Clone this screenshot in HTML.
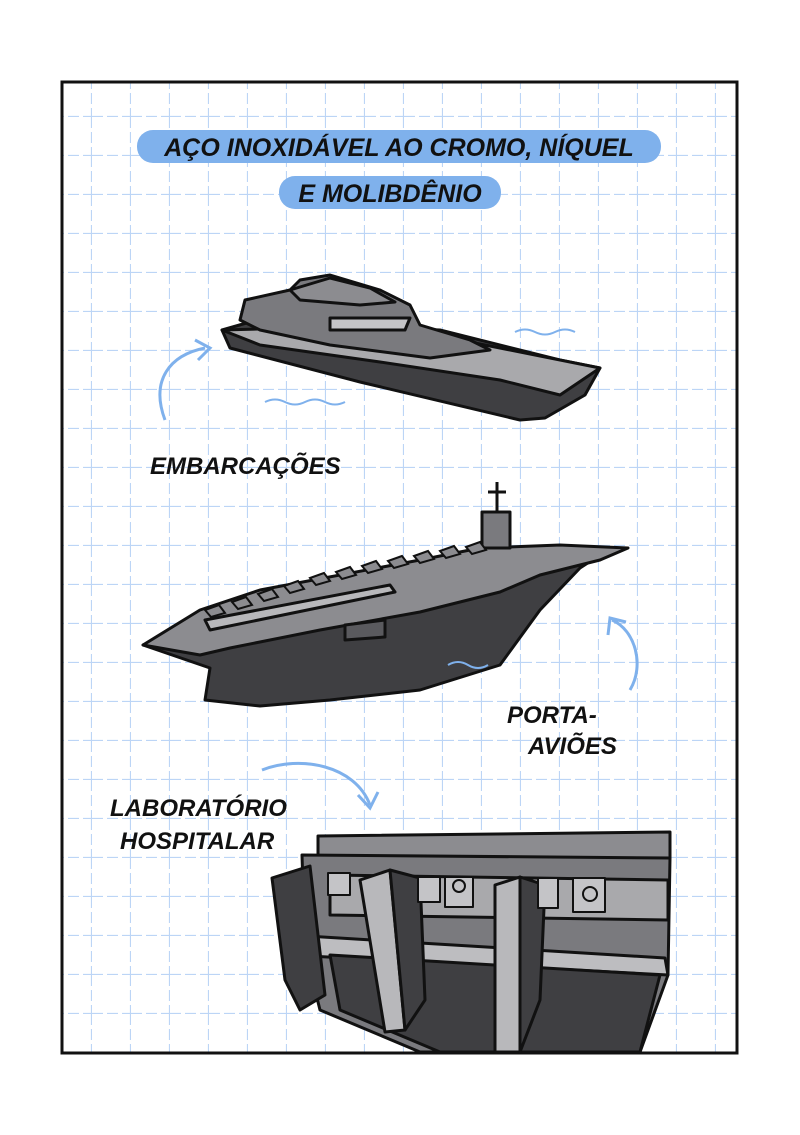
<!DOCTYPE html>
<html><head><meta charset="utf-8"><style>
html,body{margin:0;padding:0;background:#fff;}
svg{display:block}
.t{font-family:"Liberation Sans",sans-serif;font-weight:bold;font-style:italic;fill:#111;}
</style></head><body>
<svg width="800" height="1135" viewBox="0 0 800 1135" xmlns="http://www.w3.org/2000/svg">
<defs>
<pattern id="g" x="53" y="78" width="39" height="39" patternUnits="userSpaceOnUse">
<path d="M39 0V39M0 39H39" stroke="#bcd5f6" stroke-width="2.2" stroke-dasharray="11 4" fill="none"/>
</pattern>
</defs>
<rect x="0" y="0" width="800" height="1135" fill="#fff"/>
<rect x="62" y="82" width="675" height="971" fill="url(#g)"/>
<rect x="62" y="82" width="675" height="971" fill="none" stroke="#111" stroke-width="3"/>

<rect x="137" y="130" width="524" height="33" rx="16" fill="#7fb1ec"/>
<rect x="279" y="176" width="222" height="33" rx="16" fill="#7fb1ec"/>
<text class="t" x="399" y="156" font-size="25" text-anchor="middle">AÇO INOXIDÁVEL AO CROMO, NÍQUEL</text>
<text class="t" x="390" y="202" font-size="25" text-anchor="middle">E MOLIBDÊNIO</text>

<!-- yacht -->
<g stroke="#111" stroke-width="3" stroke-linejoin="round">
<path d="M222 330 L250 322 L440 330 L560 360 L600 368 L585 395 L545 418 L520 420 L360 382 L230 348 Z" fill="#3f3f42"/>
<path d="M222 330 L300 328 L420 332 L500 348 L600 368 L560 395 L500 380 L380 362 L260 345 Z" fill="#a9a9ac"/>
<path d="M245 300 L290 290 L300 280 L330 275 L380 290 L410 305 L420 325 L470 340 L490 350 L430 358 L330 345 L260 330 L240 320 Z" fill="#7a7a7e"/>
<path d="M290 290 L330 278 L370 288 L395 302 L360 305 L300 300 Z" fill="#8c8c90"/>
<path d="M330 318 L410 318 L405 330 L330 330 Z" fill="#c4c4c7"/>
</g>
<path d="M165 420 C150 380 170 355 205 348" fill="none" stroke="#7fb1ec" stroke-width="3"/>
<path d="M195 340 L210 348 L198 360" fill="none" stroke="#7fb1ec" stroke-width="3"/>
<path d="M515 332 q10 -5 20 0 q10 5 20 0 q10-5 20 0 M265 402 q10-5 20 0 q10 5 20 0 q10-5 20 0 q10 5 20 0" fill="none" stroke="#7fb1ec" stroke-width="2"/>
<text class="t" x="150" y="474" font-size="24">EMBARCAÇÕES</text>

<!-- carrier -->
<g stroke="#111" stroke-width="3" stroke-linejoin="round">
<path d="M143 645 L210 668 L205 700 L260 706 L330 700 L420 690 L500 665 L540 610 L580 568 L600 555 L560 560 L420 580 L300 610 Z" fill="#3f3f42"/>
<path d="M143 645 L200 610 L260 590 L420 560 L480 548 L560 545 L628 548 L600 560 L540 575 L500 592 L420 612 L320 630 L230 648 L200 655 Z" fill="#8c8c90"/>
<path d="M205 620 L390 585 L395 592 L210 630 Z" fill="#b8b8bb"/>
<rect x="482" y="512" width="28" height="36" fill="#7a7a7e"/>
<path d="M497 482 V512 M488 492 H506" stroke-width="3"/>
<path d="M345 625 L385 620 L385 637 L345 640 Z" fill="#5a5a5e"/>
</g>
<g fill="#8c8c90" stroke="#111" stroke-width="2">
<path d="M205 610 l14-5 l6 8 l-14 4z M232 602 l14-5 l6 8 l-14 4z M258 594 l14-5 l6 8 l-14 4z M284 586 l14-5 l6 8 l-14 4z M310 578 l14-5 l6 8 l-14 4z M336 572 l14-5 l6 8 l-14 4z M362 566 l14-5 l6 8 l-14 4z M388 561 l14-5 l6 8 l-14 4z M414 556 l14-5 l6 8 l-14 4z M440 551 l14-5 l6 8 l-14 4z M466 547 l14-5 l6 8 l-14 4z"/>
</g>
<path d="M630 690 C645 665 635 630 612 620" fill="none" stroke="#7fb1ec" stroke-width="3"/>
<path d="M608 635 L610 618 L626 622" fill="none" stroke="#7fb1ec" stroke-width="3"/>
<path d="M448 665 q10-6 20 0 q10 6 20 0" fill="none" stroke="#7fb1ec" stroke-width="2"/>
<text class="t" x="507" y="723" font-size="24">PORTA-</text>
<text class="t" x="528" y="754" font-size="24">AVIÕES</text>

<!-- lab -->
<path d="M262 770 C300 755 355 765 370 805" fill="none" stroke="#7fb1ec" stroke-width="3"/>
<path d="M358 795 L370 808 L378 792" fill="none" stroke="#7fb1ec" stroke-width="3"/>
<text class="t" x="110" y="816" font-size="24">LABORATÓRIO</text>
<text class="t" x="120" y="849" font-size="24">HOSPITALAR</text>
<g stroke="#111" stroke-width="3" stroke-linejoin="round">
<path d="M318 836 L670 832 L670 858 L318 858 Z" fill="#8c8c90"/>
<path d="M302 855 L670 858 L668 975 L640 1052 L420 1052 L320 1010 L305 950 Z" fill="#7a7a7e"/>
<path d="M330 875 L668 880 L668 920 L330 915 Z" fill="#a9a9ac"/>
<path d="M290 935 L665 958 L668 975 L290 955 Z" fill="#bdbdc0"/>
<path d="M330 955 L660 975 L640 1052 L440 1052 L340 1010 Z" fill="#3f3f42"/>
<path d="M272 878 L310 866 L325 995 L300 1010 L285 980 Z" fill="#3f3f42"/>
<path d="M360 880 L390 870 L405 1030 L385 1032 Z" fill="#b8b8bb"/>
<path d="M390 870 L420 878 L425 1000 L405 1030 Z" fill="#3f3f42"/>
<path d="M495 885 L520 877 L520 1052 L495 1052 Z" fill="#b8b8bb"/>
<path d="M520 877 L545 885 L540 1000 L520 1052 Z" fill="#3f3f42"/>
<rect x="328" y="873" width="22" height="22" fill="#c4c4c7" stroke-width="2"/>
<rect x="418" y="877" width="22" height="25" fill="#c4c4c7" stroke-width="2"/>
<rect x="445" y="877" width="28" height="30" fill="#c4c4c7" stroke-width="2"/>
<rect x="538" y="878" width="20" height="30" fill="#c4c4c7" stroke-width="2"/>
<rect x="573" y="878" width="32" height="34" fill="#c4c4c7" stroke-width="2"/>
<circle cx="459" cy="886" r="6" fill="#c4c4c7" stroke-width="2"/>
<circle cx="590" cy="894" r="7" fill="#c4c4c7" stroke-width="2"/>
</g>
</svg>
</body></html>
